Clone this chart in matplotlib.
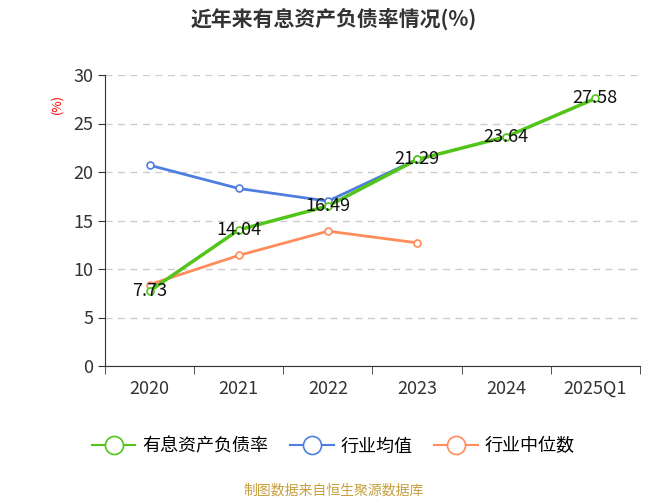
import matplotlib.pyplot as plt
from matplotlib.lines import Line2D
from matplotlib import font_manager

# pick whichever CJK family is actually registered
names = {f.name for f in font_manager.fontManager.ttflist}
cjk = [n for n in ['Noto Sans CJK SC', 'Noto Sans CJK JP', 'Noto Sans CJK TC', 'Noto Sans CJK KR',
                   'Noto Sans SC', 'Noto Sans CJK'] if n in names]
if not cjk:
    cjk = [n for n in names if 'CJK' in n or 'SC' in n]
plt.rcParams['font.family'] = 'sans-serif'
plt.rcParams['font.sans-serif'] = cjk + ['DejaVu Sans']

years = ['2020', '2021', '2022', '2023', '2024', '2025Q1']
debt_rate = [7.73, 14.04, 16.49, 21.29, 23.64, 27.58]
ind_avg = [20.7, 18.3, 17.0, 21.3]
ind_median = [8.4, 11.4, 13.9, 12.7]

green = '#52c41a'
blue = '#4e7fe0'
orange = '#ff8c5a'

fig = plt.figure(figsize=(6.67, 5), dpi=100)
ax = fig.add_axes([105/667, 1-366/500, 535/667, 291/500])

x = list(range(len(years)))
ax.plot(x[:4], ind_avg, color=blue, lw=2, marker='o', ms=5, mfc='white', mew=1.2, zorder=3)
ax.plot(x[:4], ind_median, color=orange, lw=2, marker='o', ms=5, mfc='white', mew=1.2, zorder=3)
ax.plot(x, debt_rate, color=green, lw=2.5, marker='o', ms=5, mfc='white', mew=1.2, zorder=4)
for xi, v in zip(x, debt_rate):
    ax.text(xi, v, f'{v:.2f}', ha='center', va='center', fontsize=13, color='#111111', zorder=5)

ax.set_xlim(-0.5, 5.5)
ax.set_ylim(0, 30)
ax.set_yticks(range(0, 31, 5))
ax.set_xticks(x)
ax.set_xticklabels(years)
ax.set_xticks([i - 0.5 for i in range(7)], minor=True)
ax.tick_params(axis='x', which='major', length=0, labelsize=13, pad=10, colors='#333333')
ax.tick_params(axis='x', which='minor', length=6, color='#333333')
ax.tick_params(axis='y', labelsize=13, colors='#333333', length=5)
ax.grid(axis='y', ls=(0, (5, 4)), color='#cccccc', lw=1)
for s in ['top', 'right']:
    ax.spines[s].set_visible(False)
ax.spines['left'].set_color('#333333')
ax.spines['bottom'].set_color('#333333')
ax.text(-0.09, 0.9, '(%)', transform=ax.transAxes, color='red', fontsize=9, rotation=90, ha='center', va='center')

fig.text(0.5, 0.962, '近年来有息资产负债率情况(%)', ha='center', va='center', fontsize=15, fontweight='bold', color='#333333')

handles = [Line2D([], [], color=c, lw=1.5, marker='o', ms=13, mfc='white', mew=1.2) for c in (green, blue, orange)]
fig.legend(handles, ['有息资产负债率', '行业均值', '行业中位数'], loc='center', bbox_to_anchor=(0.5, 0.107),
           ncol=3, frameon=False, fontsize=13, handlelength=2.4, columnspacing=1.2, handletextpad=0.4)
fig.text(0.5, 0.018, '制图数据来自恒生聚源数据库', ha='center', va='center', fontsize=10, color='#c8a040')

fig.savefig('out.png')
